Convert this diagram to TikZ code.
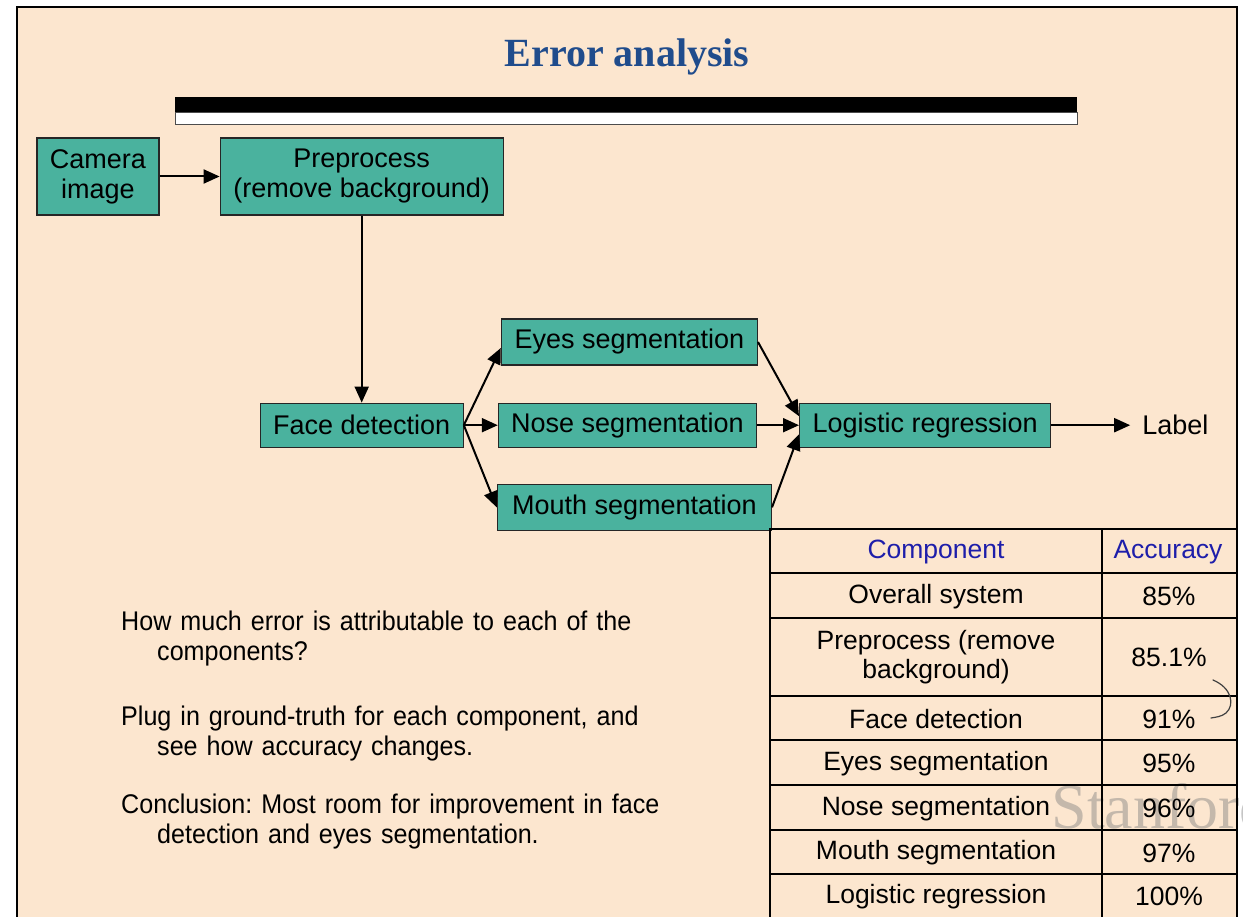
\documentclass[tikz,border=0pt]{standalone}
\usepackage{fontspec}
\setmainfont{Liberation Sans}
\newfontfamily\titlefont{Liberation Serif}
\newfontfamily\narrowfont[FakeStretch=0.93]{Liberation Sans}
\usetikzlibrary{positioning,arrows.meta}
\frenchspacing

\definecolor{slidebg}{RGB}{252,230,207}
\definecolor{boxteal}{RGB}{74,178,158}
\definecolor{titleblue}{RGB}{32,76,140}
\definecolor{headblue}{RGB}{30,30,170}

\tikzset{
  block/.style={draw=black!85, line width=1.2pt, fill=boxteal, inner sep=0pt,
    font=\fontsize{27}{30}\selectfont, align=center},
  flow/.style={line width=2pt, -{Triangle[length=16pt,width=14pt]}},
  cell/.style={font=\fontsize{26.5}{29}\selectfont, align=center},
  note/.style={anchor=north west, inner sep=0pt, text width=600pt, align=left,
    font=\narrowfont\fontsize{27}{30}\selectfont}
}

\begin{document}
\begin{tikzpicture}[x=1pt,y=-1pt]
\useasboundingbox (0,0) rectangle (1243,917);
\fill[white] (0,0) rectangle (1243,917);
\draw[line width=2.5pt, fill=slidebg] (17,7) rectangle (1237,940);

% title and bar
\node[anchor=base, text=titleblue, font=\titlefont\bfseries\fontsize{40}{40}\selectfont] (title) at (627,67) {Error analysis};
\fill[black] (175,97) rectangle (1077,113);
\draw[black!70, fill=white, line width=1pt] (175,113) rectangle (1077,125);

% pipeline
\node[block, minimum width=122pt, minimum height=77pt] (camera) at (98,176.5) {Camera\\image};
\node[block, minimum width=283pt, minimum height=77pt, right=60pt of camera] (prep) {Preprocess\\(remove background)};
\node[block, minimum width=203pt, minimum height=44pt, below=187pt of prep] (face) {Face detection};
\node[block, minimum width=258pt, minimum height=44pt, right=34pt of face] (nose) {Nose segmentation};
\node[block, minimum width=256pt, minimum height=46pt, above=37pt of nose, xshift=2pt] (eyes) {Eyes segmentation};
\node[block, minimum width=274pt, minimum height=46pt, below=36pt of nose, xshift=7pt] (mouth) {Mouth segmentation};
\node[block, minimum width=251pt, minimum height=44pt, right=42pt of nose] (logit) {Logistic regression};
\node[right=79pt of logit, inner sep=12pt, font=\fontsize{27}{30}\selectfont] (label) {Label};

\draw[flow] (camera) -- (prep);
\draw[flow] (prep) -- (face);
\draw[flow] (face.east) -- ([yshift=-6pt]eyes.west);
\draw[flow] (face.east) -- (nose.west);
\draw[flow] (face.east) -- (mouth.west);
\draw[flow] (eyes.east) -- ([yshift=9pt]logit.west);
\draw[flow] (nose) -- (logit);
\draw[flow] (mouth.east) -- ([yshift=-9pt]logit.west);
\draw[flow] (logit) -- (label);

% questions
\node[note] (q1) at (121,611) {How much error is attributable to each of the\\\hspace*{36pt}components?};
\node[note] (q2) at (121,706) {Plug in ground-truth for each component, and\\\hspace*{36pt}see how accuracy changes.};
\node[note] (q3) at (121,794) {Conclusion: Most room for improvement in face\\\hspace*{36pt}detection and eyes segmentation.};

% watermark
\node[anchor=west, text=black!50, opacity=0.45, font=\titlefont\fontsize{64}{64}\selectfont] (wm) at (1048,806) {Stanford};

% table
\draw[line width=1.5pt] (770,529) rectangle (1237,940);
\draw[line width=1.2pt] (1102,529) -- (1102,917);
\foreach \y in {573,618,696,740,785,830,874}
  \draw[line width=1.2pt] (770,\y) -- (1237,\y);
\node[cell, text=headblue] (comphead) at (936,552) {Component};
\node[cell, text=headblue] (acchead) at (1168,552) {Accuracy};
\foreach \y/\comp/\acc [count=\i] in {596.5/Overall system/85\%,
    657/{Preprocess (remove\\background)}/85.1\%,
    719/Face detection/91\%,
    763.5/Eyes segmentation/95\%,
    808.5/Nose segmentation/96\%,
    853/Mouth segmentation/97\%,
    896.5/Logistic regression/100\%}{
  \node[cell] (comp\i) at (936,\y) {\comp};
  \node[cell] (acc\i) at (1169,\y) {\acc};
}

% pen mark
\draw[line width=1.2pt, black!75, line cap=round] (1213,680) .. controls (1232,688) and (1235,705) .. (1226,713) .. controls (1221,717) and (1216,717) .. (1211,718);
\end{tikzpicture}
\end{document}
